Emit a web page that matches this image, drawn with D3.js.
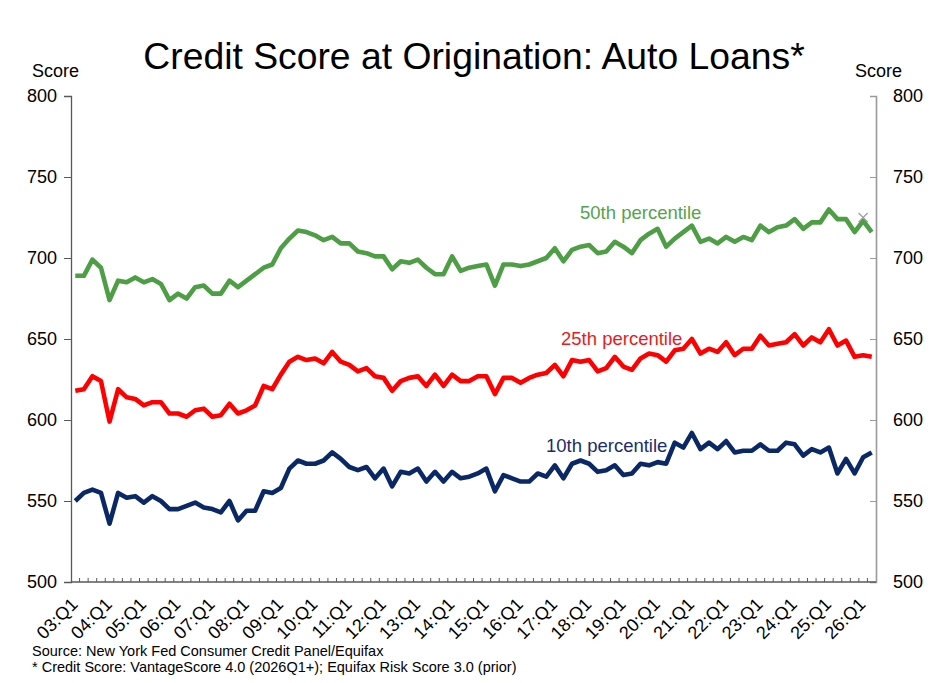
<!DOCTYPE html>
<html>
<head>
<meta charset="utf-8">
<script src="https://cdn.jsdelivr.net/npm/d3@7"></script>
<style>
  html, body { margin: 0; padding: 0; background: #fff; }
  svg { display: block; font-family: "Liberation Sans", Arial, sans-serif; }
</style>
</head>
<body>
<svg id="chart" width="948" height="683"></svg>
<script>
// ---------------- DATA ----------------
const startYear = 2003;
const nQuarters = 94;
const tickLabels = ["03:Q1","04:Q1","05:Q1","06:Q1","07:Q1","08:Q1","09:Q1","10:Q1","11:Q1","12:Q1",
  "13:Q1","14:Q1","15:Q1","16:Q1","17:Q1","18:Q1","19:Q1","20:Q1","21:Q1","22:Q1","23:Q1","24:Q1","25:Q1","26:Q1"];
const yTicks = [500, 550, 600, 650, 700, 750, 800];

const p50 = [689,689,699,694,674,686,685,688,685,687,684,674,678,675,682,683,678,678,686,682,
  686,690,694,696,706,712,717,716,714,711,713,709,709,704,703,701,701,693,698,697,
  699,694,690,690,701,692,694,695,696,683,696,696,695,696,698,700,706,698,705,707,
  708,703,704,710,707,703,711,715,718,707,712,716,720,710,712,709,713,710,713,711,
  720,716,719,720,724,718,722,722,730,724,724,716,723,716];
const p25 = [618,619,627,624,599,619,614,613,609,611,611,604,604,602,606,607,602,603,610,604,
  606,609,621,619,628,636,639,637,638,635,642,636,634,630,632,627,626,618,624,626,
  627,621,628,621,628,624,624,627,627,616,626,626,623,626,628,629,634,627,637,636,
  637,630,632,639,633,631,638,641,640,636,643,644,650,641,644,642,648,640,644,644,
  652,646,647,648,653,646,651,648,656,646,649,639,640,639];
const p10 = [550,555,557,555,536,555,552,553,549,553,550,545,545,547,549,546,545,543,550,538,
  544,544,556,555,558,570,575,573,573,575,580,576,571,569,571,564,570,559,568,567,
  570,562,568,562,568,564,565,567,570,556,566,564,562,562,567,565,572,564,573,575,
  573,568,569,572,566,567,573,572,574,573,586,583,592,582,586,582,587,580,581,581,
  585,581,581,586,585,578,582,580,583,567,576,567,577,580];
// gray "x" marker on the 50th percentile series
const markerIndex = 92;
const markerValue = 725;

const seriesNames = ["50th percentile", "25th percentile", "10th percentile"];

// ---------------- BUILD ----------------
const categories = [];
for (let i = 0; i < nQuarters; i++) {
  const y = startYear + Math.floor(i / 4);
  categories.push(String(y % 100).padStart(2, "0") + ":Q" + (i % 4 + 1));
}

const series = [
  { name: seriesNames[0], values: p50, color: "#4d9e45", text: "#55a34c", lx: 580, ly: 219 },
  { name: seriesNames[1], values: p25, color: "#ff0000", text: "#e81c1c", lx: 561, ly: 345 },
  { name: seriesNames[2], values: p10, color: "#0b2866", text: "#1b2d6a", lx: 546, ly: 452 }
];

const svg = d3.select("#chart");
const L = 71, R = 876, T = 96, B = 582;

const x = d3.scalePoint().domain(categories).range([L, R]).padding(0.5);
const y = d3.scaleLinear().domain([500, 800]).range([B, T]);

// Title
svg.append("text").attr("x", 474).attr("y", 69).attr("text-anchor", "middle")
  .attr("font-size", 37.3).attr("fill", "#000").text("Credit Score at Origination: Auto Loans*");

// axis titles
svg.append("text").attr("x", 32).attr("y", 77).attr("font-size", 18).text("Score");
svg.append("text").attr("x", 855).attr("y", 77).attr("font-size", 18).text("Score");

// Left axis
const leftAxis = d3.axisLeft(y).tickValues(yTicks).tickSize(7).tickPadding(7).tickFormat(d3.format("d"));
const gL = svg.append("g").attr("transform", `translate(${L},0)`).call(leftAxis);
gL.select(".domain").attr("stroke", "#595959").attr("stroke-width", 1.3);
gL.selectAll(".tick line").attr("stroke", "#595959");
gL.selectAll(".tick text").attr("font-size", 18).attr("font-family", "Liberation Sans, Arial, sans-serif").attr("fill", "#000");

// Right axis (ticks inward)
const rightAxis = d3.axisRight(y).tickValues(yTicks).tickSize(-6).tickPadding(17).tickFormat(d3.format("d"));
const gR = svg.append("g").attr("transform", `translate(${R},0)`).call(rightAxis);
gR.select(".domain").attr("stroke", "#9a9a9a").attr("stroke-width", 1.6);
gR.selectAll(".tick line").attr("stroke", "#9a9a9a");
gR.selectAll(".tick text").attr("font-size", 18).attr("font-family", "Liberation Sans, Arial, sans-serif").attr("fill", "#000");

// Bottom axis line
svg.append("line").attr("x1", L).attr("x2", R).attr("y1", B).attr("y2", B)
  .attr("stroke", "#595959").attr("stroke-width", 1.3);
// category boundary ticks (inward)
const step = x.step();
const boundaries = d3.range(1, nQuarters).map(i => L + i * step);
svg.append("g").selectAll("line").data(boundaries).join("line")
  .attr("x1", d => d).attr("x2", d => d).attr("y1", B).attr("y2", B - 4)
  .attr("stroke", "#595959").attr("stroke-width", 1);

// x labels
svg.append("g").selectAll("text").data(tickLabels).join("text")
  .attr("transform", d => `translate(${x(d) - 1},${B + 19}) rotate(-45)`)
  .attr("text-anchor", "end").attr("dy", "0.35em")
  .attr("font-size", 18).attr("fill", "#000").text(d => d);

// lines
const line = d3.line().x((d, i) => x(categories[i])).y(d => y(d));
series.forEach(s => {
  svg.append("path").datum(s.values).attr("d", line)
    .attr("fill", "none").attr("stroke", s.color).attr("stroke-width", 4.6)
    .attr("stroke-linejoin", "round");
  svg.append("text").attr("x", s.lx).attr("y", s.ly).attr("font-size", 18.5)
    .attr("fill", s.text).text(s.name);
});

// marker
const mx = x(categories[markerIndex]), my = y(markerValue), ms = 4.5;
svg.append("path")
  .attr("d", `M${mx - ms},${my - ms}L${mx + ms},${my + ms}M${mx - ms},${my + ms}L${mx + ms},${my - ms}`)
  .attr("stroke", "#a0a0a0").attr("stroke-width", 1.3).attr("fill", "none");

// footnotes
svg.append("text").attr("x", 32).attr("y", 656).attr("font-size", 14.5)
  .text("Source: New York Fed Consumer Credit Panel/Equifax");
svg.append("text").attr("x", 32).attr("y", 672).attr("font-size", 14.5)
  .text("* Credit Score: VantageScore 4.0 (2026Q1+); Equifax Risk Score 3.0 (prior)");
</script>
</body>
</html>
